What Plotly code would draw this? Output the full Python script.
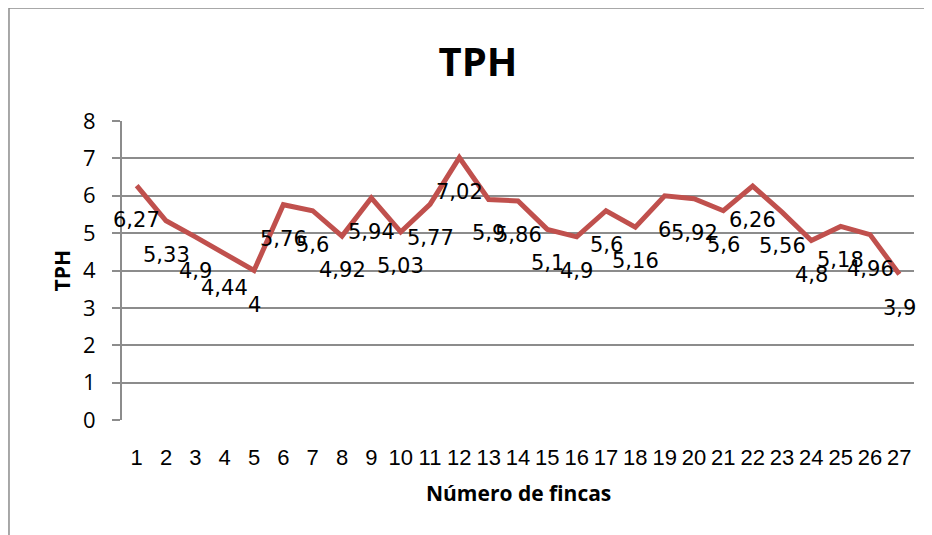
import plotly.graph_objects as go

fincas = list(range(1, 28))
tph = [6.27, 5.33, 4.9, 4.44, 4, 5.76, 5.6, 4.92, 5.94, 5.03, 5.77, 7.02, 5.9, 5.86,
       5.1, 4.9, 5.6, 5.16, 6, 5.92, 5.6, 6.26, 5.56, 4.8, 5.18, 4.96, 3.9]
y_ticks = list(range(0, 9))

GRID = '#8c8c8c'
LINE = '#C0504D'

fig = go.Figure()
fig.add_trace(go.Scatter(
    x=fincas, y=tph, mode='lines',
    line=dict(color=LINE, width=5),
    hoverinfo='skip', showlegend=False,
))

# etiquetas de datos, debajo de cada punto (como en Excel)
for f, v in zip(fincas, tph):
    fig.add_annotation(
        x=f, y=v, text=f'{v:g}'.replace('.', ','),
        showarrow=False, yshift=-34, yanchor='middle', xanchor='center',
        font=dict(family='DejaVu Sans', size=21, color='black'),
    )

# titulos de ejes
fig.add_annotation(
    x=-0.0758, y=0.5, xref='paper', yref='paper', text='<b>TPH</b>',
    textangle=-90, showarrow=False, xanchor='center', yanchor='middle',
    font=dict(family='Open Sans', size=21, color='black'),
)
fig.add_annotation(
    x=0.5, y=-0.244, xref='paper', yref='paper', text='<b>Número de fincas</b>',
    showarrow=False, xanchor='center', yanchor='middle',
    font=dict(family='Open Sans', size=21, color='black'),
)

# marco del grafico
fig.add_shape(
    type='rect', xref='paper', yref='paper',
    x0=-0.1427, x1=1.03, y0=-0.41, y1=1.378,
    line=dict(color='#8c8c8c', width=1.5), layer='below',
)

# la pagina deja 8px de margen, por eso 924x527
fig.update_layout(
    width=924, height=527,
    margin=dict(l=114, r=18, t=113, b=115),
    paper_bgcolor='white', plot_bgcolor='white',
    title=dict(text='<b>TPH</b>', xref='container', yref='container',
               x=0.5087, y=0.8975, xanchor='center', yanchor='middle',
               font=dict(family='Open Sans', size=40, color='black')),
    xaxis=dict(
        range=[0.5, 27.5], tickmode='array', tickvals=fincas,
        ticktext=[str(f) for f in fincas],
        showgrid=False, zeroline=False, showline=False, ticks='',
        ticklabelstandoff=22,
        tickfont=dict(family='Liberation Sans', size=22, color='black'),
    ),
    yaxis=dict(
        range=[0, 8], tickvals=y_ticks, showgrid=True, gridcolor=GRID, gridwidth=2,
        zeroline=False, showline=True, linecolor=GRID, linewidth=2,
        ticks='outside', ticklen=8, tickcolor=GRID, tickwidth=2,
        ticklabelstandoff=12,
        tickfont=dict(family='Open Sans', size=22, color='black'),
    ),
)

fig.write_html('out.html')
